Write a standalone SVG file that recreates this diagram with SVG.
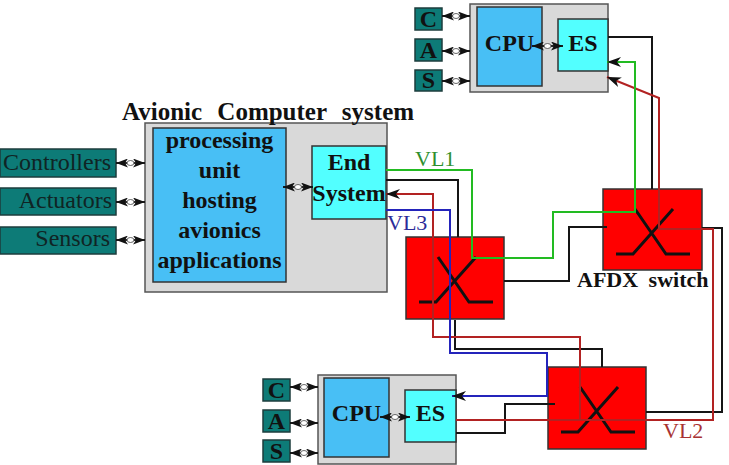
<svg xmlns="http://www.w3.org/2000/svg" width="729" height="465" viewBox="0 0 729 465">
<style>
.gray{fill:#d9d9d9;stroke:#555;stroke-width:1.5}
.cpu{fill:#48bff5;stroke:#333;stroke-width:1.5}
.es{fill:#52ffff;stroke:#333;stroke-width:1.5}
.teal{fill:#0d7b77;stroke:#1d3d3d;stroke-width:1.5}
.sw{fill:#ff0000;stroke:#333;stroke-width:1.5}
.xs{fill:none;stroke:#111;stroke-width:3}
.bt{font-family:"Liberation Serif","Times New Roman",serif;font-weight:bold;font-size:24px;fill:#111;text-anchor:middle}
.rt{font-family:"Liberation Serif","Times New Roman",serif;font-size:24px;fill:#102424;text-anchor:end}
.vl{font-family:"Liberation Serif","Times New Roman",serif;font-size:22px}
.ln{fill:none;stroke-width:2}
.k{stroke:#151515}
.r{stroke:#b22222}
.g{stroke:#22bb22}
.b{stroke:#2424bb}
.dbl{stroke:#111;stroke-width:1.8;marker-start:url(#da);marker-end:url(#da)}
.dot{fill:#fff;stroke:#444;stroke-width:0.8}
</style>
<defs>
<marker id="arr" viewBox="0 0 14 10" refX="14" refY="5" markerWidth="14" markerHeight="10" markerUnits="userSpaceOnUse" orient="auto">
<path d="M0,0 L14,5 L0,10 L4,5 z" fill="#111"/>
</marker>
<marker id="da" viewBox="0 0 12 9" refX="12" refY="4.5" markerWidth="12" markerHeight="9" markerUnits="userSpaceOnUse" orient="auto-start-reverse">
<path d="M0,0 L12,4.5 L0,9 L3,4.5 z" fill="#111"/>
</marker>
<path id="xsym" d="M32,20 L63,65 L87,65 M13,65 L30,65 L70,20"/>
</defs>

<g id="avionic-computer">
<rect class="gray" x="145" y="123" width="242" height="169"/>
<text class="bt" x="122" y="120" style="text-anchor:start;font-size:25px;word-spacing:9px">Avionic Computer system</text>
</g>
<g id="processing-unit">
<rect class="cpu" x="153" y="128" width="133" height="154"/>
<text class="bt" x="219.5" y="148">processing</text>
<text class="bt" x="219.5" y="178">unit</text>
<text class="bt" x="219.5" y="208">hosting</text>
<text class="bt" x="219.5" y="238">avionics</text>
<text class="bt" x="219.5" y="268">applications</text>
</g>
<g id="end-system">
<rect class="es" x="312" y="146" width="74" height="73"/>
<text class="bt" x="349" y="170">End</text>
<text class="bt" x="349" y="201">System</text>
</g>
<g id="controllers">
<rect class="teal" x="0" y="149" width="116" height="28"/>
<text class="rt" x="111" y="170">Controllers</text>
</g>
<g id="actuators">
<rect class="teal" x="0" y="188" width="116" height="27"/>
<text class="rt" x="112" y="208">Actuators</text>
</g>
<g id="sensors">
<rect class="teal" x="0" y="227" width="116" height="27"/>
<text class="rt" x="110" y="246">Sensors</text>
</g>

<g id="top-computer">
<rect class="gray" x="470" y="4" width="138" height="88"/>
</g>
<g id="top-cpu">
<rect class="cpu" x="477" y="7" width="65" height="79"/>
<text class="bt" x="509.5" y="51">CPU</text>
</g>
<g id="top-es">
<rect class="es" x="558" y="19" width="50" height="52"/>
<text class="bt" x="583" y="51">ES</text>
</g>
<g id="top-c"><rect class="teal" x="415" y="8" width="27" height="22"/><text class="bt" x="428.5" y="27">C</text></g>
<g id="top-a"><rect class="teal" x="415" y="39" width="27" height="22"/><text class="bt" x="428.5" y="58">A</text></g>
<g id="top-s"><rect class="teal" x="415" y="70" width="27" height="21"/><text class="bt" x="428.5" y="88">S</text></g>

<g id="bottom-computer">
<rect class="gray" x="318" y="375" width="138" height="89"/>
</g>
<g id="bottom-cpu">
<rect class="cpu" x="324" y="378" width="65" height="79"/>
<text class="bt" x="356.5" y="421">CPU</text>
</g>
<g id="bottom-es">
<rect class="es" x="405" y="390" width="51" height="52"/>
<text class="bt" x="430.5" y="421">ES</text>
</g>
<g id="bottom-c"><rect class="teal" x="263" y="379" width="27" height="22"/><text class="bt" x="276.5" y="398">C</text></g>
<g id="bottom-a"><rect class="teal" x="263" y="410" width="27" height="22"/><text class="bt" x="276.5" y="429">A</text></g>
<g id="bottom-s"><rect class="teal" x="263" y="440" width="27" height="22"/><text class="bt" x="276.5" y="459">S</text></g>

<g id="switch-left">
<rect class="sw" x="406" y="237" width="98" height="82"/>
<use href="#xsym" class="xs" x="406" y="237"/>
</g>
<g id="switch-right">
<rect class="sw" x="603" y="189" width="99" height="81"/>
<use href="#xsym" class="xs" x="603" y="189"/>
<text class="bt" x="577" y="287" style="text-anchor:start;font-size:22px;word-spacing:5px">AFDX switch</text>
</g>
<g id="switch-bottom">
<rect class="sw" x="548" y="367" width="98" height="82"/>
<use href="#xsym" class="xs" x="548" y="367"/>
</g>

<g id="connectors">
<line class="dbl" x1="116" y1="163" x2="145" y2="163"/><ellipse class="dot" cx="130.5" cy="163" rx="3.5" ry="2.5"/>
<line class="dbl" x1="116" y1="202" x2="145" y2="202"/><ellipse class="dot" cx="130.5" cy="202" rx="3.5" ry="2.5"/>
<line class="dbl" x1="116" y1="240" x2="145" y2="240"/><ellipse class="dot" cx="130.5" cy="240" rx="3.5" ry="2.5"/>
<line class="dbl" x1="283" y1="187" x2="313" y2="187"/><ellipse class="dot" cx="298" cy="187" rx="3.5" ry="2.5"/>
<line class="dbl" x1="442" y1="16" x2="470" y2="16"/><ellipse class="dot" cx="456" cy="16" rx="3.5" ry="2.5"/>
<line class="dbl" x1="442" y1="51" x2="470" y2="51"/><ellipse class="dot" cx="456" cy="51" rx="3.5" ry="2.5"/>
<line class="dbl" x1="442" y1="81" x2="470" y2="81"/><ellipse class="dot" cx="456" cy="81" rx="3.5" ry="2.5"/>
<line class="dbl" x1="532" y1="46" x2="563" y2="46"/><ellipse class="dot" cx="547.5" cy="46" rx="3.5" ry="2.5"/>
<line class="dbl" x1="290" y1="387" x2="318" y2="387"/><ellipse class="dot" cx="304" cy="387" rx="3.5" ry="2.5"/>
<line class="dbl" x1="290" y1="423" x2="318" y2="423"/><ellipse class="dot" cx="304" cy="423" rx="3.5" ry="2.5"/>
<line class="dbl" x1="290" y1="453" x2="318" y2="453"/><ellipse class="dot" cx="304" cy="453" rx="3.5" ry="2.5"/>
<line class="dbl" x1="380" y1="417" x2="410" y2="417"/><ellipse class="dot" cx="395" cy="417" rx="3.5" ry="2.5"/>

<path class="ln k" d="M608,37 H652 V189"/>
<path class="ln k" d="M386,180 H458 V237"/>
<path class="ln k" d="M504,281 H569 V227 H607"/>
<path class="ln k" d="M702,228 H722 V412 H646"/>
<path class="ln k" d="M455,320 V349 H602 V367"/>
<path class="ln k" d="M456,433 H505 V404 H555"/>

<path class="ln r" d="M456,420 H713 V229 H659 V98 L607,77" marker-end="url(#arr)"/>
<path class="ln r" d="M580,420 V337 H433 V194 H386" marker-end="url(#arr)"/>
<path class="ln b" d="M386,210 H450 V353 H547 V396 H452" marker-end="url(#arr)"/>
<path class="ln g" d="M386,170 H472 V258 H553 V212 H635 V62 H607" marker-end="url(#arr)"/>

<text class="vl" x="415" y="166" fill="#2e8f2e">VL1</text>
<text class="vl" x="387" y="230" fill="#2b2b99">VL3</text>
<text class="vl" x="663" y="438" fill="#a83232">VL2</text>
</g>
</svg>
